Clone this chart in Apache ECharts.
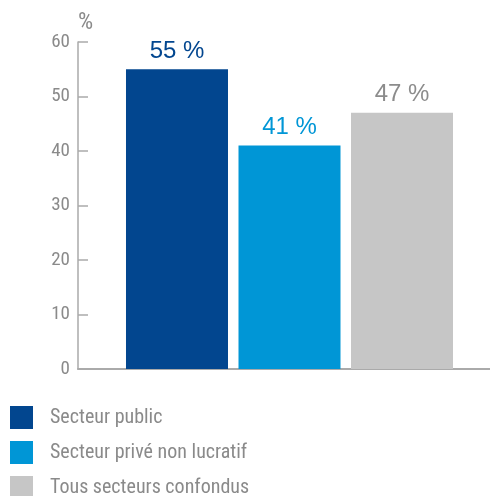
<!DOCTYPE html>
<html>
<head>
<meta charset="utf-8">
<script src="https://cdn.jsdelivr.net/npm/echarts@6/dist/echarts.min.js"></script>
<style>
  html, body { margin: 0; padding: 0; background: #fff; }
  #chart { width: 490px; height: 496px; }
</style>
</head>
<body>
<div id="chart"></div>
<script>
// Share by sector, in percent
const sectors = ['Secteur public', 'Secteur privé non lucratif', 'Tous secteurs confondus'];
const shares = [55, 41, 47];
const barColors = ['#02468f', '#0096d6', '#c6c6c6'];
const labelColors = ['#02468f', '#0096d6', '#8c8c8c'];
const yTicks = [0, 10, 20, 30, 40, 50, 60];

const narrow = "'Roboto Condensed', 'DejaVu Sans Condensed', sans-serif";
const axisGrey = '#aaaaaa';
const textGrey = '#8a8a8a';

const chart = echarts.init(document.getElementById('chart'), null, { renderer: 'canvas' });

const series = sectors.map((name, i) => ({
  name: name,
  type: 'bar',
  xAxisIndex: 0,
  yAxisIndex: 0,
  data: [shares[i]],
  barWidth: 102,
  barGap: '10.3%',
  itemStyle: { color: barColors[i] },
  label: {
    show: true,
    position: 'top',
    distance: 6,
    formatter: '{c} %',
    color: labelColors[i],
    fontFamily: "'Liberation Sans', Arial, sans-serif",
    fontSize: 24
  }
}));

chart.setOption({
  animation: false,
  grid: [
    // bars sit in this grid
    { left: 89, right: 0, top: 42, bottom: 127 },
    // full-width grid that carries the baseline from the value axis onward
    { left: 78, right: 0, top: 42, bottom: 127 }
  ],
  legend: {
    orient: 'vertical',
    left: 5,
    top: 401,
    height: 120,
    itemWidth: 23,
    itemHeight: 23,
    itemGap: 12,
    icon: 'rect',
    selectedMode: false,
    data: sectors,
    textStyle: {
      fontFamily: narrow,
      fontSize: 20,
      color: textGrey,
      padding: [0, 0, 0, 12]
    }
  },
  xAxis: [
    {
      type: 'category',
      gridIndex: 0,
      data: [''],
      axisLine: { show: false },
      axisTick: { show: false },
      axisLabel: { show: false }
    },
    {
      type: 'category',
      gridIndex: 1,
      data: [''],
      axisLine: { lineStyle: { color: axisGrey, width: 2 } },
      axisTick: { show: false },
      axisLabel: { show: false }
    }
  ],
  yAxis: [
    {
      type: 'value',
      gridIndex: 0,
      offset: 11,
      min: yTicks[0],
      max: yTicks[yTicks.length - 1],
      interval: 10,
      name: '%',
      nameLocation: 'end',
      nameGap: 7,
      nameTextStyle: {
        fontFamily: narrow,
        fontSize: 24,
        color: textGrey,
        align: 'left',
        padding: [0, 0, 0, 0]
      },
      splitLine: { show: false },
      axisLine: { show: true, lineStyle: { color: axisGrey, width: 1.5 } },
      axisTick: { show: true, inside: true, length: 10, lineStyle: { color: axisGrey, width: 1.5 } },
      axisLabel: {
        margin: 8,
        fontFamily: narrow,
        fontSize: 19,
        color: textGrey
      }
    },
    {
      type: 'value',
      gridIndex: 1,
      min: yTicks[0],
      max: yTicks[yTicks.length - 1],
      show: false
    }
  ],
  series: series
});
</script>
</body>
</html>
